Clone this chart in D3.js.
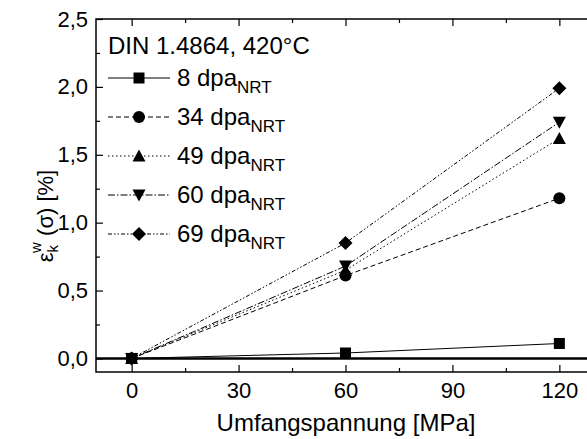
<!DOCTYPE html>
<html>
<head>
<meta charset="utf-8">
<script src="https://cdn.jsdelivr.net/npm/d3@7"></script>
<style>
  body { margin: 0; background: #fff; }
  text { font-family: "Liberation Sans", Arial, sans-serif; fill: #000; }
</style>
</head>
<body>
<script>
// data
const stress = [0, 60, 120];
const seriesNames = ["8", "34", "49", "60", "69"];
const strain8 = [0, 0.04, 0.11];
const strain34 = [0, 0.61, 1.18];
const strain49 = [0, 0.65, 1.62];
const strain60 = [0, 0.68, 1.74];
const strain69 = [0, 0.85, 1.99];
const xTicks = [0, 30, 60, 90, 120];
const yTicks = [0, 0.5, 1.0, 1.5, 2.0, 2.5];

const allStrain = [strain8, strain34, strain49, strain60, strain69];
const dashes = ["none", "5,3", "1.5,2.5", "7,2,1.5,2", "4,2,1.5,2,1.5,2"];
const symbols = ["square", "circle", "up", "down", "diamond"];

const width = 587, height = 439;
const svg = d3.select("body").append("svg")
  .attr("width", width).attr("height", height);

const x = d3.scaleLinear().domain([-10, 130]).range([96, 595]);
const y = d3.scaleLinear().domain([-0.1, 2.5]).range([372, 19]);

const fmt = d => d3.format(".1f")(d).replace(".", ",");

// axes with inward ticks
const xMinor = d3.range(15, 131, 30);
const yMinor = d3.range(0.25, 2.5, 0.5);

svg.append("g").attr("transform", "translate(0,372)")
  .call(d3.axisBottom(x).tickValues(xTicks).tickSize(-7).tickPadding(10).tickFormat(d3.format("d")))
  .call(g => g.select(".domain").remove());
svg.append("g").attr("transform", "translate(0,372)")
  .call(d3.axisBottom(x).tickValues(xMinor).tickSize(-4).tickFormat(""))
  .call(g => g.select(".domain").remove());
svg.append("g").attr("transform", "translate(0,19)")
  .call(d3.axisTop(x).tickValues(xTicks).tickSize(-7).tickFormat(""))
  .call(g => g.select(".domain").remove());
svg.append("g").attr("transform", "translate(0,19)")
  .call(d3.axisTop(x).tickValues(xMinor).tickSize(-4).tickFormat(""))
  .call(g => g.select(".domain").remove());
svg.append("g").attr("transform", "translate(96,0)")
  .call(d3.axisLeft(y).tickValues(yTicks).tickSize(-7).tickPadding(8).tickFormat(fmt))
  .call(g => g.select(".domain").remove());
svg.append("g").attr("transform", "translate(96,0)")
  .call(d3.axisLeft(y).tickValues(yMinor).tickSize(-4).tickFormat(""))
  .call(g => g.select(".domain").remove());

svg.selectAll(".tick line").attr("stroke", "#000").attr("stroke-width", 1.2);
svg.selectAll(".tick text").style("font-size", "22px").attr("font-family", null);

// frame
svg.append("rect")
  .attr("x", 96).attr("y", 19)
  .attr("width", x(130) - 96).attr("height", 372 - 19)
  .attr("fill", "none").attr("stroke", "#000").attr("stroke-width", 1.5);

// zero line
svg.append("line")
  .attr("x1", 96).attr("x2", x(130))
  .attr("y1", y(0)).attr("y2", y(0))
  .attr("stroke", "#000").attr("stroke-width", 2.5);

function drawMarker(g, type, cx, cy) {
  if (type === "square") {
    g.append("rect").attr("x", cx - 5.5).attr("y", cy - 5.5).attr("width", 11).attr("height", 11);
  } else if (type === "circle") {
    g.append("circle").attr("cx", cx).attr("cy", cy).attr("r", 6);
  } else if (type === "up") {
    g.append("path").attr("d", `M${cx},${cy - 6.5}L${cx + 6.5},${cy + 5.5}L${cx - 6.5},${cy + 5.5}Z`);
  } else if (type === "down") {
    g.append("path").attr("d", `M${cx},${cy + 6.5}L${cx + 6.5},${cy - 5.5}L${cx - 6.5},${cy - 5.5}Z`);
  } else {
    g.append("path").attr("d", `M${cx},${cy - 7}L${cx + 7},${cy}L${cx},${cy + 7}L${cx - 7},${cy}Z`);
  }
}

const line = d3.line().x(d => x(d[0])).y(d => y(d[1]));

allStrain.forEach(function (vals, i) {
  const pts = stress.map((s, j) => [s, vals[j]]);
  svg.append("path")
    .datum(pts)
    .attr("fill", "none")
    .attr("stroke", "#000")
    .attr("stroke-width", 1)
    .attr("stroke-dasharray", dashes[i])
    .attr("d", line);
  const mg = svg.append("g").attr("fill", "#000");
  pts.forEach(p => drawMarker(mg, symbols[i], x(p[0]), y(p[1])));
});

// legend
svg.append("text").attr("x", 108).attr("y", 54)
  .style("font-size", "24px").text("DIN 1.4864, 420°C");

seriesNames.forEach(function (name, i) {
  const ry = 78 + i * 39;
  svg.append("line")
    .attr("x1", 108).attr("x2", 170)
    .attr("y1", ry).attr("y2", ry)
    .attr("stroke", "#000").attr("stroke-width", 1)
    .attr("stroke-dasharray", dashes[i]);
  drawMarker(svg.append("g").attr("fill", "#000"), symbols[i], 139, ry);
  const t = svg.append("text").attr("x", 177).attr("y", ry + 8).style("font-size", "24px");
  t.append("tspan").text(name + " dpa");
  t.append("tspan").attr("dy", 7).style("font-size", "17px").text("NRT");
});

// axis titles
svg.append("text")
  .attr("x", 346).attr("y", 431)
  .attr("text-anchor", "middle")
  .style("font-size", "24px")
  .text("Umfangspannung [MPa]");

const yt = svg.append("text")
  .attr("transform", "translate(53,216) rotate(-90)")
  .attr("text-anchor", "middle")
  .style("font-size", "22px");
yt.append("tspan").text("ε");
yt.append("tspan").attr("dy", 5).style("font-size", "15px").text("k");
yt.append("tspan").attr("dx", -8).attr("dy", -17).style("font-size", "15px").text("w");
yt.append("tspan").attr("dy", 12).text(" (σ) [%]");
</script>
</body>
</html>
